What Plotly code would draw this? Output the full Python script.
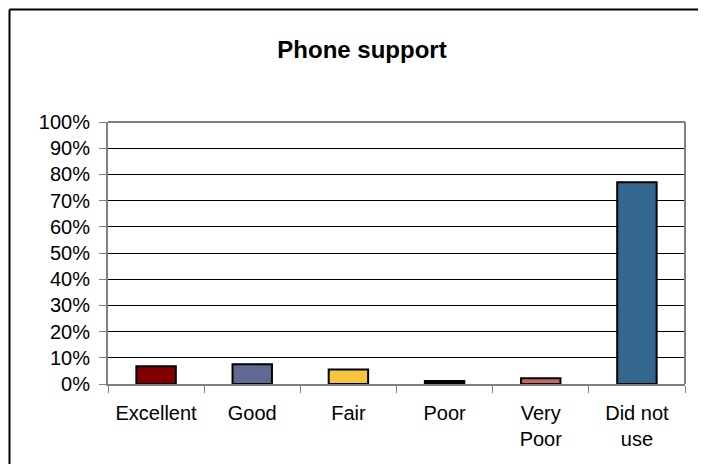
import plotly.graph_objects as go

# values
categories = ["Excellent", "Good", "Fair", "Poor", "Very<br>Poor", "Did not<br>use"]
shares = [0.068, 0.075, 0.055, 0.011, 0.022, 0.77]
bar_colors = ["#800000", "#5F6A92", "#F5C540", "#000000", "#C86464", "#336790"]
y_ticks = [i / 10 for i in range(11)]
y_labels = [f"{i * 10}%" for i in range(11)]

# page body adds an 8px offset, so the figure is drawn 8px smaller to fit the window
W, H = 698, 456
L, T = 100, 114
pw, ph = 577, 262
R, B = W - L - pw, H - T - ph


def px_to_paper(x, y):
    return (x - L) / pw, (H - B - y) / ph


fig = go.Figure(go.Bar(
    x=categories,
    y=shares,
    width=0.41,
    marker=dict(color=bar_colors, line=dict(color="#000000", width=2)),
))

# outer chart border: only top and left edges are inside the window
bx0, by1 = px_to_paper(1.5, 1.5)
bx1, by0 = px_to_paper(W + 10, H + 10)
fig.add_shape(type="line", xref="paper", yref="paper",
              x0=bx0, y0=by1, x1=bx1, y1=by1,
              line=dict(color="#000000", width=2))
fig.add_shape(type="line", xref="paper", yref="paper",
              x0=bx0, y0=by0, x1=bx0, y1=by1,
              line=dict(color="#000000", width=2))

# plot area top/right border in grey
fig.add_shape(type="line", xref="paper", yref="paper", x0=0, y0=1, x1=1, y1=1,
              line=dict(color="#808080", width=2))
fig.add_shape(type="line", xref="paper", yref="paper", x0=1, y0=0, x1=1, y1=1,
              line=dict(color="#808080", width=2))

fig.update_layout(
    width=W, height=H,
    margin=dict(l=L, r=R, t=T, b=B),
    paper_bgcolor="white",
    plot_bgcolor="white",
    showlegend=False,
    font=dict(family="Liberation Sans, Arial, sans-serif", color="#000000", size=20),
    title=dict(text="<b>Phone support</b>", x=354 / W, xanchor="center",
               y=1 - 42 / H, yanchor="middle",
               font=dict(size=24, color="#000000")),
    xaxis=dict(
        type="category",
        tickson="boundaries",
        ticks="outside", ticklen=7, tickcolor="#808080", tickwidth=1,
        ticklabelstandoff=10,
        showline=True, linecolor="#808080", linewidth=2,
        showgrid=False,
        tickfont=dict(size=20),
    ),
    yaxis=dict(
        range=[0, 1],
        tickvals=y_ticks, ticktext=y_labels,
        ticks="outside", ticklen=7, tickcolor="#808080", tickwidth=1,
        ticklabelstandoff=5,
        showline=True, linecolor="#808080", linewidth=2,
        showgrid=True, gridcolor="#000000", gridwidth=1,
        zeroline=False,
        tickfont=dict(size=20),
    ),
)

fig.write_html("out.html", config={"displayModeBar": False})
